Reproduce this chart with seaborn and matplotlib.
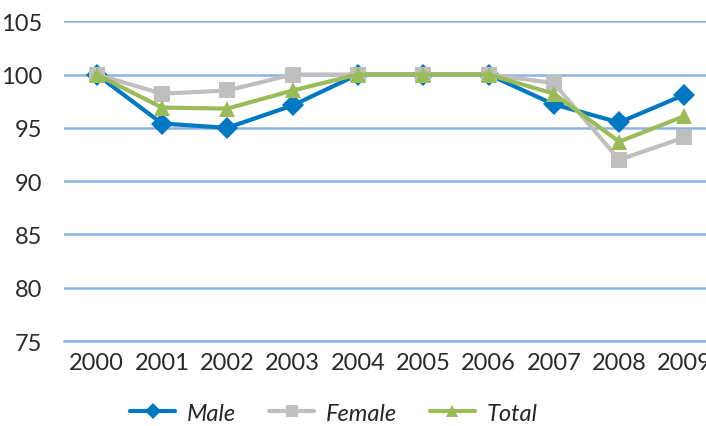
import pandas as pd
import matplotlib.pyplot as plt
import seaborn as sns
from matplotlib.ticker import FixedLocator

# Dados
anos = ['2000', '2001', '2002', '2003', '2004', '2005', '2006', '2007', '2008', '2009']
male = [100, 95.4, 95.0, 97.1, 100, 100, 100, 97.2, 95.5, 98.1]
female = [100, 98.2, 98.5, 100, 100, 100, 100, 99.2, 92.0, 94.1]
total = [100, 96.9, 96.8, 98.5, 100, 100, 100, 98.2, 93.7, 96.1]
series = ['Male', 'Female', 'Total']

df = pd.DataFrame({
    'Ano': anos * 3,
    'Valor': male + female + total,
    'Serie': ['Male'] * len(anos) + ['Female'] * len(anos) + ['Total'] * len(anos),
})

cores = {'Male': '#0079C2', 'Female': '#BFBFBF', 'Total': '#9BBB59'}
marcadores = {'Male': 'D', 'Female': 's', 'Total': '^'}
grade = '#8DB3E2'

sns.set_style('white')
plt.rcParams['font.family'] = ['Lato', 'DejaVu Sans']

fig = plt.figure(figsize=(7.06, 4.27), dpi=100)
ax = fig.add_axes([0.0907, 0.199, 0.925, 0.749])

sns.lineplot(data=df, x='Ano', y='Valor', hue='Serie', style='Serie',
             hue_order=series, style_order=series,
             palette=cores, markers=marcadores, dashes=False,
             linewidth=3, markersize=11, markeredgewidth=0, ax=ax)

ax.set_ylim(75, 105)
ax.set_xlim(-0.5, len(anos) - 0.5)
ax.set_yticks(range(75, 106, 5))
ax.yaxis.grid(True, color=grade, linewidth=1.8)
ax.set_axisbelow(True)
for s in ['left', 'right', 'top']:
    ax.spines[s].set_visible(False)
ax.spines['bottom'].set_color(grade)
ax.spines['bottom'].set_linewidth(1.8)

ax.xaxis.set_minor_locator(FixedLocator([i - 0.5 for i in range(len(anos) + 1)]))
ax.tick_params(axis='x', which='minor', length=6, width=1.5, color=grade, direction='out')
ax.tick_params(axis='x', which='major', length=0, pad=8, labelsize=17, labelcolor='#2a2a2a')
ax.tick_params(axis='y', length=0, pad=16, labelsize=17, labelcolor='#2a2a2a')
ax.set_xlabel('')
ax.set_ylabel('')

handles, labels = ax.get_legend_handles_labels()
ax.get_legend().remove()
for h in handles:
    h.set_markersize(8)
fig.legend(handles, labels, loc='center', bbox_to_anchor=(0.473, 0.03), ncol=3,
           frameon=False, handlelength=1.9, columnspacing=1.4, handletextpad=0.5,
           prop={'style': 'italic', 'size': 17})

fig.savefig('out.png', dpi=100)
